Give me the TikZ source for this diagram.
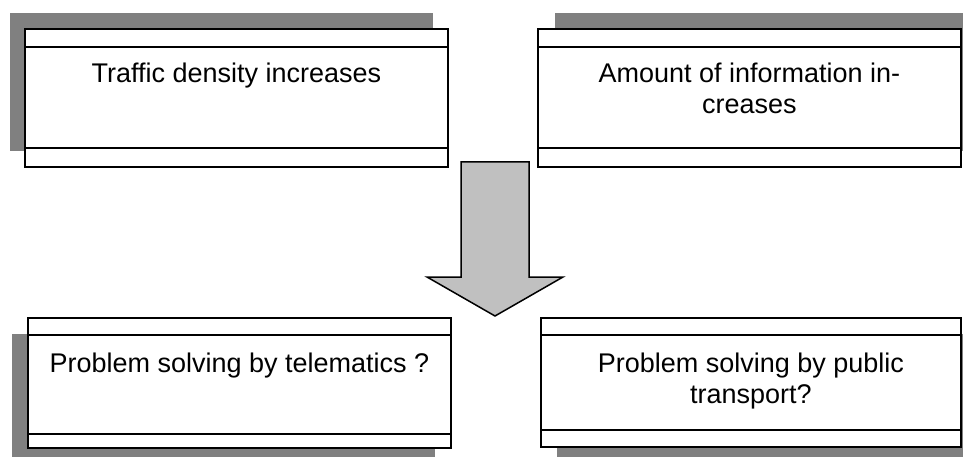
\documentclass[tikz,border=0pt]{standalone}
\usepackage{fontspec}
\setmainfont{Liberation Sans}
\usetikzlibrary{shadows}
\definecolor{shadowgray}{HTML}{808080}
\definecolor{arrowgray}{HTML}{C0C0C0}
\begin{document}
\begin{tikzpicture}[x=1pt,y=-1pt,
  panel/.style={draw=black, line width=1.8pt, fill=white, inner sep=0pt,
    anchor=north west},
  cast/.style 2 args={drop shadow={shadow xshift=#1, shadow yshift=#2,
    fill=shadowgray, opacity=1}},
  rule/.style={draw=black, line width=1.5pt},
  caption/.style={font=\fontsize{27}{31}\selectfont, align=center,
    anchor=base, inner sep=0pt},
  bigarrow/.style={draw=black, line width=1.5pt, fill=arrowgray, line join=miter}]

\useasboundingbox (0,0) rectangle (963,457);
\clip (0,0) rectangle (963,457);

% upper row
\node[panel, cast={-15pt}{16pt}, minimum width=423pt, minimum height=138pt] (a) at (24,28) {};
\draw[rule] ([yshift=-19pt]a.north west) -- ([yshift=-19pt]a.north east);
\draw[rule] ([yshift=20pt]a.south west) -- ([yshift=20pt]a.south east);
\node[caption] (ta) at ([yshift=-55pt]a.north) {Traffic density increases};

\node[panel, cast={17pt}{16pt}, minimum width=423pt, minimum height=138pt] (b) at (537,28) {};
\draw[rule] ([yshift=-19pt]b.north west) -- ([yshift=-19pt]b.north east);
\draw[rule] ([yshift=20pt]b.south west) -- ([yshift=20pt]b.south east);
% two-line captions sit on the baseline of their last line
\node[caption] (tb) at ([yshift=-86pt]b.north) {Amount of information in-\\creases};

% lower row
\node[panel, cast={-16pt}{-16pt}, minimum width=423pt, minimum height=130pt] (c) at (27,317) {};
\draw[rule] ([yshift=-18pt]c.north west) -- ([yshift=-18pt]c.north east);
\draw[rule] ([yshift=15pt]c.south west) -- ([yshift=15pt]c.south east);
\node[caption] (tc) at ([yshift=-55pt]c.north) {Problem solving by telematics ?};

\node[panel, cast={16pt}{-16pt}, minimum width=420pt, minimum height=129pt] (d) at (540,317) {};
\draw[rule] ([yshift=-18pt]d.north west) -- ([yshift=-18pt]d.north east);
\draw[rule] ([yshift=18pt]d.south west) -- ([yshift=18pt]d.south east);
\node[caption] (td) at ([yshift=-86pt]d.north) {Problem solving by public\\transport?};

% block arrow between the rows
\draw[bigarrow] (461,162) -- (529,162) -- (529,277) -- (563,277) -- (495,316)
  -- (427,277) -- (461,277) -- cycle;
\end{tikzpicture}
\end{document}
